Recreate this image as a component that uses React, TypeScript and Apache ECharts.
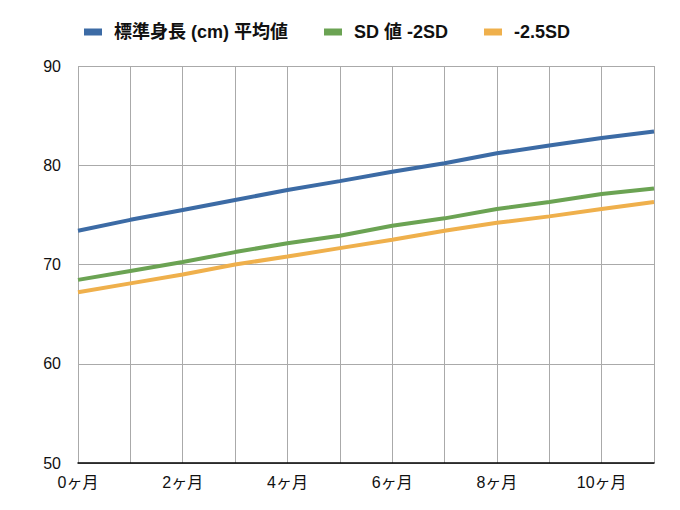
import React, { useEffect, useRef } from "react";
import * as echarts from "echarts";

const months = ["0ヶ月", "1ヶ月", "2ヶ月", "3ヶ月", "4ヶ月", "5ヶ月", "6ヶ月", "7ヶ月", "8ヶ月", "9ヶ月", "10ヶ月", "11ヶ月"];
const meanHeight = [73.4, 74.5, 75.5, 76.5, 77.5, 78.4, 79.35, 80.2, 81.2, 82.0, 82.75, 83.4];
const sdMinus2 = [68.45, 69.35, 70.25, 71.25, 72.15, 72.9, 73.9, 74.65, 75.6, 76.3, 77.1, 77.65];
const sdMinus25 = [67.2, 68.1, 69.0, 70.0, 70.8, 71.65, 72.5, 73.4, 74.2, 74.85, 75.6, 76.3];
const seriesNames = ["標準身長 (cm) 平均値", "SD 値 -2SD", "-2.5SD"];
const colors = ["#3c6ba5", "#6ba353", "#efb04c"];

const FONT = "'Liberation Sans', 'Noto Sans CJK JP', sans-serif";

export default function App() {
  const ref = useRef<HTMLDivElement>(null);
  useEffect(() => {
    if (!ref.current) return;
    const chart = echarts.init(ref.current, undefined, { renderer: "svg" });
    const dataSets = [meanHeight, sdMinus2, sdMinus25];
    chart.setOption({
      animation: false,
      textStyle: { fontFamily: FONT },
      color: colors,
      legend: {
        left: 71,
        top: 10,
        icon: "rect",
        itemWidth: 18,
        itemHeight: 7,
        itemGap: 36,
        textStyle: {
          fontFamily: FONT,
          fontSize: 18,
          fontWeight: "bold",
          color: "#111",
          padding: [0, 0, 0, 7],
        },
        data: seriesNames,
      },
      grid: { left: 70, right: 18, top: 58, bottom: 39, containLabel: false },
      xAxis: {
        type: "category",
        data: months,
        boundaryGap: false,
        axisLine: { show: true, lineStyle: { color: "#000", width: 1.5 } },
        axisTick: { show: false },
        axisLabel: { interval: 1, fontSize: 16, color: "#111", margin: 11, fontFamily: FONT },
        splitLine: { show: true, interval: 0, lineStyle: { color: "#aaaaaa", width: 1 } },
      },
      yAxis: {
        type: "value",
        min: 50,
        max: 90,
        interval: 10,
        axisLine: { show: false },
        axisTick: { show: false },
        axisLabel: { fontSize: 16, color: "#111", margin: 17, fontFamily: FONT },
        splitLine: { show: true, lineStyle: { color: "#aaaaaa", width: 1 } },
      },
      series: dataSets.map((d, i) => ({
        name: seriesNames[i],
        type: "line",
        data: d,
        showSymbol: false,
        symbol: "none",
        lineStyle: { width: 4, color: colors[i] },
        itemStyle: { color: colors[i] },
      })),
    });
    return () => chart.dispose();
  }, []);
  return <div ref={ref} style={{ width: 664, height: 494 }} />;
}
